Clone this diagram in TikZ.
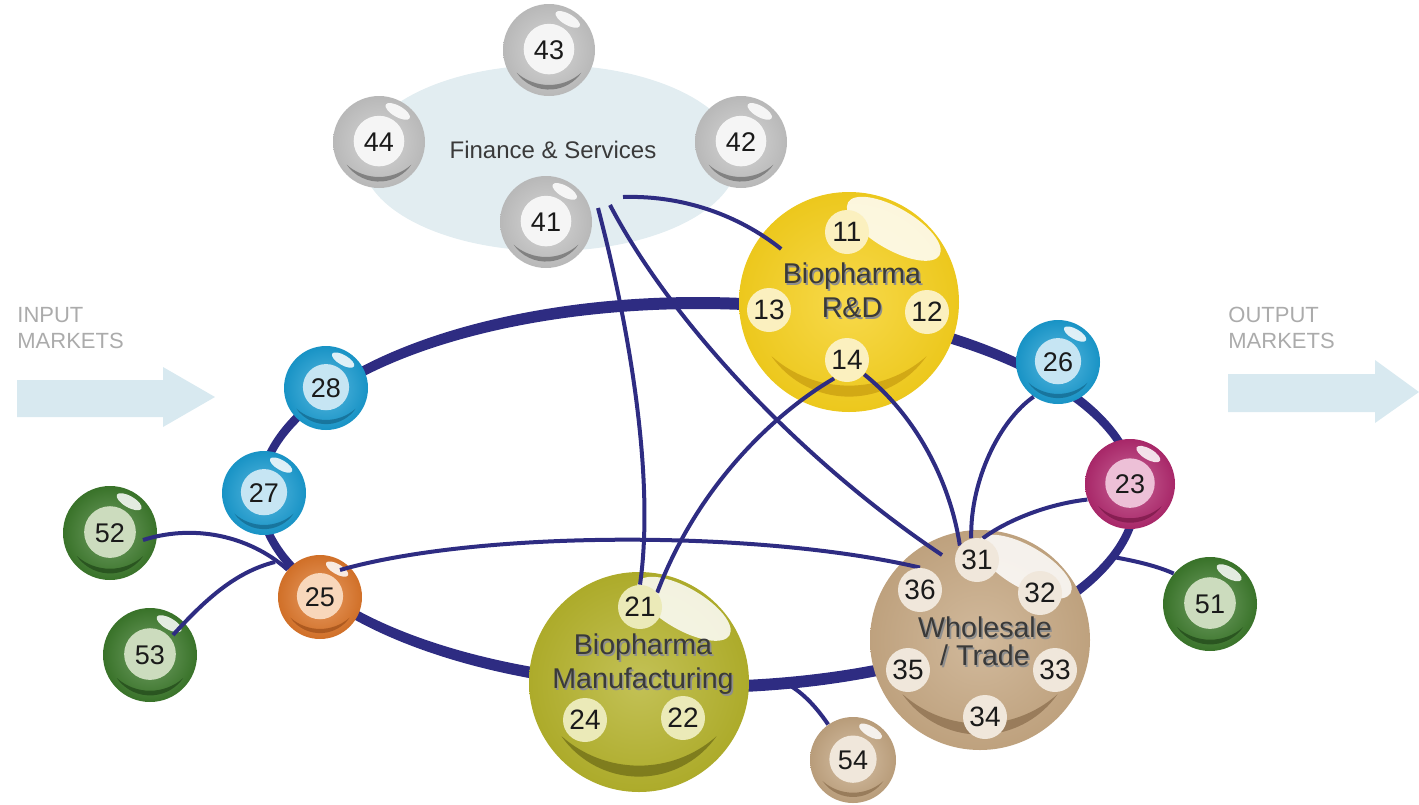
\documentclass[tikz,border=0pt]{standalone}
\usepackage{fontspec}
\setmainfont{Liberation Sans}
\usetikzlibrary{calc}
\pgfdeclarelayer{bg}
\pgfdeclarelayer{fg}
\pgfsetlayers{bg,main,fg}
\definecolor{navy}{HTML}{2E2C82}
\definecolor{finbg}{HTML}{E2EDF1}
\definecolor{arrowbg}{HTML}{D8E9F0}
\definecolor{mkttext}{HTML}{ABABAB}
\definecolor{lbltext}{HTML}{3A3A3A}
\definecolor{lblshadow}{HTML}{8E8E8E}
\definecolor{numtext}{HTML}{1A1A1A}
\definecolor{silver}{HTML}{C6C6C6}
\definecolor{silverdk}{HTML}{6E6E6E}
\definecolor{silverin}{HTML}{F5F5F5}
\definecolor{cyanb}{HTML}{1A9ED4}
\definecolor{cyandk}{HTML}{14698F}
\definecolor{cyanin}{HTML}{C6E5F3}
\definecolor{orng}{HTML}{E0782B}
\definecolor{orngdk}{HTML}{A0501A}
\definecolor{orngin}{HTML}{F8D7BB}
\definecolor{mgnt}{HTML}{B42A70}
\definecolor{mgntdk}{HTML}{7A1848}
\definecolor{mgntin}{HTML}{EDC0D7}
\definecolor{grn}{HTML}{3D7B2C}
\definecolor{grndk}{HTML}{22491A}
\definecolor{grnin}{HTML}{CCDCBE}
\definecolor{tanb}{HTML}{C6A883}
\definecolor{tandk}{HTML}{8C6F4E}
\definecolor{tanin}{HTML}{F0E7DB}
\definecolor{ylw}{HTML}{F6D01E}
\definecolor{ylwdk}{HTML}{C99E10}
\definecolor{ylwin}{HTML}{FBF0BF}
\definecolor{olv}{HTML}{B4B22C}
\definecolor{olvdk}{HTML}{6F6D17}
\definecolor{olvin}{HTML}{EBEAB8}

% crescent and gloss, in a scope whose unit is the ball radius
\newcommand\orbdeco[3]{%
  \fill[#1, opacity=0.75] (215:0.86) arc[start angle=215,end angle=325,radius=0.86]
    arc[start angle=311.54,end angle=228.46,radius=1.0617] -- cycle;
  \fill[white, opacity=0.85, rotate=-30] (0.02,0.78) ellipse[x radius=#2, y radius=#3];}

% small sphere: name, x, y, radius, base, dark, inner, number
\newcommand\ball[8]{%
  \node[orbbody={#4}{#5}] (#1) at (#2,#3) {};
  \begin{scope}[shift={(#2,#3)}, x=#4, y=#4]
    \fill[#7] (0,0.02) circle (0.55);
    \orbdeco{#6}{0.3}{0.12}
  \end{scope}
  \node[numtxt] (#1t) at (#2,#3) {#8};}

% big sphere: name, x, y, base, dark
\newcommand\bigball[5]{%
  \node[bigbody={#4}] (#1) at (#2,#3) {};
  \begin{scope}[shift={(#2,#3)}, x=55pt, y=55pt]
    \orbdeco{#5}{0.48}{0.19}
  \end{scope}}

\newcommand\shd[1]{\rlap{\hspace{0.8pt}\raisebox{-0.8pt}{\textcolor{lblshadow}{#1}}}#1}

\tikzset{
  orbbody/.style 2 args={circle, inner sep=0pt, minimum size=2*#1,
    inner color=#2!72!white, outer color=#2!93!black},
  bigbody/.style={circle, inner sep=0pt, minimum size=110pt,
    inner color=#1!80!white, outer color=#1!96!black},
  numtxt/.style={inner sep=0pt, text=numtext, font=\fontsize{13.5}{13.5}\selectfont},
  numdot/.style={circle, inner sep=0pt, minimum size=22pt, fill=#1, text=numtext,
    font=\fontsize{14}{14}\selectfont},
  biglbl/.style={align=center, text=lbltext, inner sep=0pt, font=\fontsize{14.3}{17}\selectfont},
  link/.style={draw=navy, line width=2pt},
  mkt/.style={text=mkttext, font=\fontsize{11}{13}\selectfont, inner sep=0pt, anchor=base west},
}

\begin{document}
\begin{tikzpicture}[x=0.5pt, y=-0.5pt]
\useasboundingbox (0,0) rectangle (1419,804);

\begin{pgfonlayer}{bg}
  \fill[finbg] (550,158) ellipse[x radius=188, y radius=93];
  \fill[arrowbg] (17,380) -- (163,380) -- (163,367) -- (215,397) -- (163,427) -- (163,417) -- (17,417) -- cycle;
  \fill[arrowbg] (1228,374) -- (1375,374) -- (1375,360) -- (1419,392) -- (1375,423) -- (1375,412) -- (1228,412) -- cycle;
  % main ring: thicker at top and bottom than at the sides
  \fill[navy, even odd rule] (698,495) ellipse[x radius=442, y radius=198]
                             (698,495) ellipse[x radius=434, y radius=186];
\end{pgfonlayer}

% market labels
\node[mkt] (inp1) at (17,322) {INPUT};
\node[mkt] (inp2) at (17,348) {MARKETS};
\node[mkt] (out1) at (1228,322) {OUTPUT};
\node[mkt] (out2) at (1228,348) {MARKETS};

% finance & services
\node[text=lbltext, font=\fontsize{12}{12}\selectfont] (fin) at (553,150) {Finance \& Services};
\ball{n43}{549}{50}{23pt}{silver}{silverdk}{silverin}{43}
\ball{n44}{379}{142}{23pt}{silver}{silverdk}{silverin}{44}
\ball{n42}{741}{142}{23pt}{silver}{silverdk}{silverin}{42}
\ball{n41}{546}{222}{23pt}{silver}{silverdk}{silverin}{41}

% big spheres
\bigball{rd}{849}{302}{ylw}{ylwdk}
\bigball{mf}{639}{682}{olv}{olvdk}
\bigball{ws}{980}{640}{tanb}{tandk}

% small spheres
\ball{n28}{326}{388}{21pt}{cyanb}{cyandk}{cyanin}{28}
\ball{n27}{264}{493}{21pt}{cyanb}{cyandk}{cyanin}{27}
\ball{n25}{320}{597}{21pt}{orng}{orngdk}{orngin}{25}
\ball{n52}{110}{533}{23.5pt}{grn}{grndk}{grnin}{52}
\ball{n53}{150}{655}{23.5pt}{grn}{grndk}{grnin}{53}
\ball{n26}{1058}{362}{21pt}{cyanb}{cyandk}{cyanin}{26}
\ball{n23}{1130}{484}{22.5pt}{mgnt}{mgntdk}{mgntin}{23}
\ball{n51}{1210}{604}{23.5pt}{grn}{grndk}{grnin}{51}
\ball{n54}{853}{760}{21.5pt}{tanb}{tandk}{tanin}{54}

\begin{pgfonlayer}{fg}
  \node[numdot=ylwin] (n11) at (847,232) {11};
  \node[numdot=ylwin] (n13) at (769,310) {13};
  \node[numdot=ylwin] (n12) at (927,312) {12};
  \node[numdot=ylwin] (n14) at (847,360) {14};
  \node[biglbl] (rdlbl) at (852,291) {\shd{Biopharma}\\\shd{R\&D}};

  \node[numdot=olvin] (n21) at (640,607) {21};
  \node[numdot=olvin] (n24) at (585,720) {24};
  \node[numdot=olvin] (n22) at (683,718) {22};
  \node[biglbl] (mflbl) at (643,665) {\shd{Biopharma}\\\shd{Manufacturing}};

  \node[numdot=tanin] (n31) at (977,560) {31};
  \node[numdot=tanin] (n36) at (920,590) {36};
  \node[numdot=tanin] (n32) at (1040,593) {32};
  \node[numdot=tanin] (n35) at (908,670) {35};
  \node[numdot=tanin] (n33) at (1055,670) {33};
  \node[numdot=tanin] (n34) at (985,717) {34};
  \node[biglbl, font=\fontsize{14.3}{14}\selectfont] (wslbl) at (985,642) {\shd{Wholesale}\\\shd{/ Trade}};
\end{pgfonlayer}

% free ends
\coordinate (fa) at (623,197);
\coordinate (fb) at (598,208);
\coordinate (fc) at (610,205);
\coordinate (r51) at (1113,557);
\coordinate (r54) at (785,683);

% connectors
\draw[link] (fa) .. controls (690,195) and (745,220) .. ($(rd.center)!0.78!(rd.142)$);
\draw[link] (fb) .. controls (630,330) and (655,480) .. (n21.north);
\draw[link] (fc) .. controls (670,320) and (800,460) .. ($(n31.center)+(-35,-5)$);
\draw[link] (n14.-125) .. controls (780,410) and (700,480) .. (n21.40);
\draw[link] (n14.-40) .. controls (915,415) and (950,480) .. (n31.140);
\draw[link] (n26.235) .. controls (1000,420) and (970,480) .. (n31.105);
\draw[link] (n23.200) .. controls (1040,505) and (1000,525) .. (n31.75);
\draw[link] (n51.140) .. controls (1155,565) and (1130,560) .. (r51);
\draw[link] (n54.125) .. controls (815,705) and (800,690) .. (r54);
\draw[link] ($(n25.center)+(20,-27)$) .. controls (480,530) and (760,530) .. (n36.north);
\draw[link] ($(n52.center)+(33,7)$) .. controls (200,522) and (255,540) .. (n25.140);
\draw[link] ($(n53.center)+(23,-20)$) .. controls (205,600) and (235,572) .. ($(n25.center)+(-45,-35)$);
\end{tikzpicture}
\end{document}
